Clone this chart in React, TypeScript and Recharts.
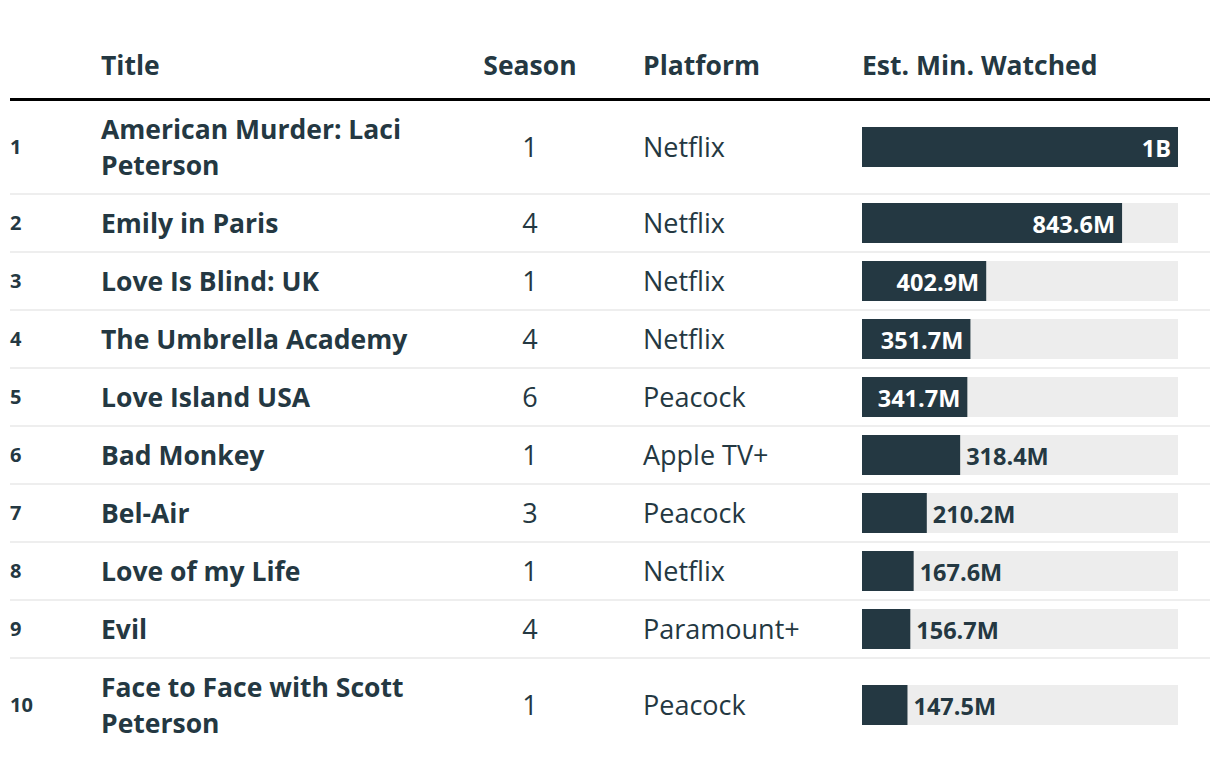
import { BarChart, Bar, XAxis, YAxis } from 'recharts';

const ranks = [1, 2, 3, 4, 5, 6, 7, 8, 9, 10];
const titles = [
  'American Murder: Laci Peterson',
  'Emily in Paris',
  'Love Is Blind: UK',
  'The Umbrella Academy',
  'Love Island USA',
  'Bad Monkey',
  'Bel-Air',
  'Love of my Life',
  'Evil',
  'Face to Face with Scott Peterson',
];
const seasons = [1, 4, 1, 4, 6, 1, 3, 1, 4, 1];
const platforms = [
  'Netflix', 'Netflix', 'Netflix', 'Netflix', 'Peacock',
  'Apple TV+', 'Peacock', 'Netflix', 'Paramount+', 'Peacock',
];
// minutes watched, in millions
const minutes = [1025, 843.6, 402.9, 351.7, 341.7, 318.4, 210.2, 167.6, 156.7, 147.5];
const columns = ['Title', 'Season', 'Platform', 'Est. Min. Watched'];

const MAX = Math.max(...minutes);
const DARK = '#243842';
const FONT = '"Open Sans", sans-serif';

const fmt = (v: number) => (v >= 1000 ? `${Math.round(v / 1000)}B` : `${v.toFixed(1)}M`);

function ValueLabel(props: any) {
  const { x, y, width, height, value } = props;
  const inside = width >= 100;
  return (
    <text
      x={inside ? x + width - 7 : x + width + 6}
      y={y + height / 2 + 1}
      textAnchor={inside ? 'end' : 'start'}
      dominantBaseline="central"
      fill={inside ? '#ffffff' : DARK}
      fontFamily={FONT}
      fontWeight={700}
      fontSize={23.5}
    >
      {fmt(value)}
    </text>
  );
}

function RowBar({ value, name }: { value: number; name: string }) {
  return (
    <BarChart
      width={316}
      height={40}
      layout="vertical"
      data={[{ name, value }]}
      margin={{ top: 0, right: 0, bottom: 0, left: 0 }}
      barCategoryGap={0}
    >
      <XAxis type="number" domain={[0, MAX]} allowDataOverflow hide />
      <YAxis type="category" dataKey="name" hide />
      <Bar
        dataKey="value"
        fill={DARK}
        background={{ fill: '#ededed' }}
        isAnimationActive={false}
        label={ValueLabel}
      />
    </BarChart>
  );
}

const col = {
  rank: { width: 91 },
  title: { width: 359 },
  season: { width: 140, textAlign: 'center' as const },
  gap: { width: 43 },
  platform: { width: 219 },
  bar: { width: 316 },
};

export default function App() {
  return (
    <div
      style={{
        position: 'absolute',
        left: 10,
        top: 1,
        width: 1200,
        fontFamily: FONT,
        color: DARK,
        background: '#fff',
      }}
    >
      <div
        style={{
          height: 100,
          display: 'flex',
          alignItems: 'flex-end',
          boxSizing: 'border-box',
          paddingBottom: 15,
          fontSize: 26.5,
          fontWeight: 700,
          lineHeight: '36px',
          borderBottom: '3px solid #000',
        }}
      >
        <div style={col.rank} />
        <div style={col.title}>{columns[0]}</div>
        <div style={col.season}>{columns[1]}</div>
        <div style={col.gap} />
        <div style={col.platform}>{columns[2]}</div>
        <div style={col.bar}>{columns[3]}</div>
      </div>
      {ranks.map((r, i) => {
        const tall = i === 0 || i === ranks.length - 1;
        return (
          <div
            key={r}
            style={{
              height: tall ? 92 : 56,
              display: 'flex',
              alignItems: 'center',
              borderBottom: i < ranks.length - 1 ? '2px solid #eeeeee' : 'none',
              fontSize: 27,
              lineHeight: '36px',
            }}
          >
            <div style={{ ...col.rank, fontSize: 20, fontWeight: 700 }}>{r}</div>
            <div style={{ ...col.title, fontWeight: 700, fontSize: 26.5 }}>{titles[i]}</div>
            <div style={col.season}>{seasons[i]}</div>
            <div style={col.gap} />
            <div style={col.platform}>{platforms[i]}</div>
            <div style={col.bar}>
              <RowBar value={minutes[i]} name={titles[i]} />
            </div>
          </div>
        );
      })}
    </div>
  );
}
